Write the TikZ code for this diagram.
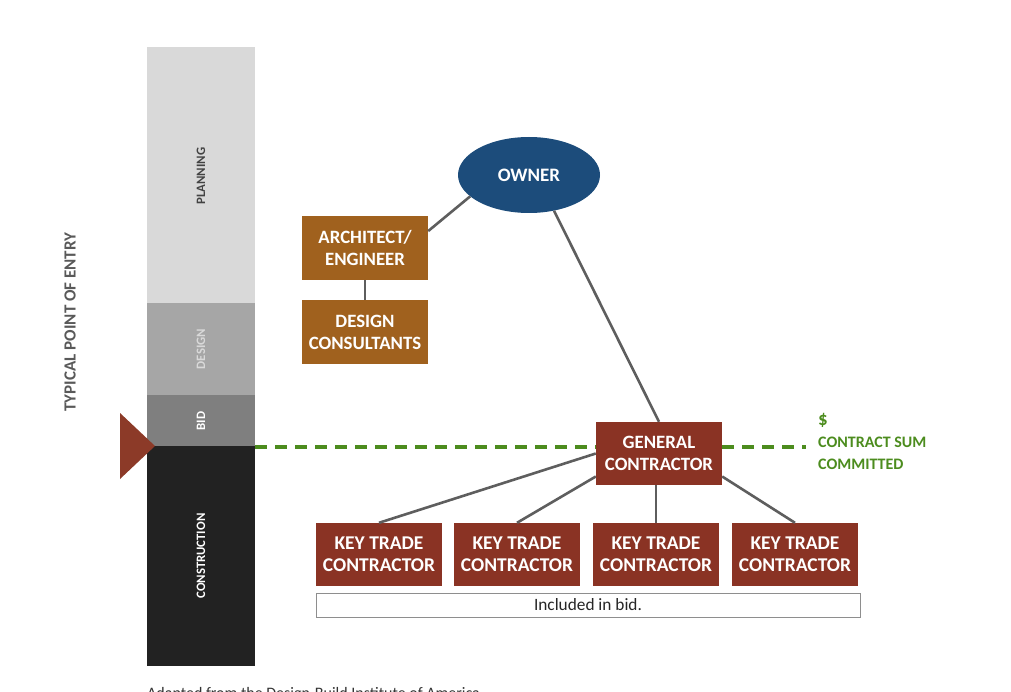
\documentclass[tikz,border=0pt]{standalone}
\usepackage{fontspec}
\setmainfont{Carlito}
\usetikzlibrary{shapes.geometric}
\definecolor{ownerblue}{HTML}{1C4C7B}
\definecolor{archbrown}{HTML}{A0611E}
\definecolor{gcred}{HTML}{8A3324}
\definecolor{tri}{HTML}{8C3A28}
\definecolor{sumgreen}{HTML}{4C8C1E}
\definecolor{linegray}{HTML}{5E5E5E}
\definecolor{ph1}{HTML}{D9D9D9}
\definecolor{ph2}{HTML}{A6A6A6}
\definecolor{ph3}{HTML}{7F7F7F}
\definecolor{ph4}{HTML}{222222}
\definecolor{txtgray}{HTML}{595959}
\tikzset{
  boxA/.style={fill=archbrown, text=white, font=\fontsize{18.8}{22}\selectfont\bfseries, align=center, minimum width=126pt, minimum height=64pt, inner sep=0pt},
  boxR/.style={fill=gcred, text=white, font=\fontsize{19.5}{22}\selectfont\bfseries, align=center, minimum width=126pt, minimum height=63pt, inner sep=0pt},
  conn/.style={draw=linegray, line width=2.6pt},
  phase/.style={rotate=90, font=\fontsize{12.8}{14}\selectfont\bfseries},
}
\begin{document}
\begin{tikzpicture}[x=1pt,y=-1pt]
\useasboundingbox (0,0) rectangle (1011,692);
% phase bar
\fill[ph1] (147,47) rectangle (255,303);
\fill[ph2] (147,303) rectangle (255,395);
\fill[ph3] (147,395) rectangle (255,446);
\fill[ph4] (147,446) rectangle (255,666);
\node[phase, text=ph4!85] (pl) at (201,176) {PLANNING};
\node[phase, text=ph1] (de) at (201,349) {DESIGN};
\node[phase, text=white] (bi) at (201,421) {BID};
\node[phase, text=white] (co) at (201,556) {CONSTRUCTION};
\node[rotate=90, text=txtgray, font=\fontsize{17}{20}\selectfont\bfseries] (tp) at (70,322) {TYPICAL POINT OF ENTRY};
\fill[tri] (120,413) -- (155,446) -- (120,479) -- cycle;
% nodes
\node[ellipse, fill=ownerblue, text=white, font=\fontsize{19}{22}\selectfont\bfseries, minimum width=142pt, minimum height=76pt, inner sep=0pt] (owner) at (529,175) {OWNER};
\node[boxA] (arch) at (365,248) {ARCHITECT/\\ENGINEER};
\node[boxA] (dc) at (365,332) {DESIGN\\CONSULTANTS};
\node[boxR, font=\fontsize{18.8}{22}\selectfont\bfseries] (gc) at (659,453.5) {GENERAL\\CONTRACTOR};
\node[boxR] (k1) at (379,554.5) {KEY TRADE\\CONTRACTOR};
\node[boxR] (k2) at (517,554.5) {KEY TRADE\\CONTRACTOR};
\node[boxR] (k3) at (656,554.5) {KEY TRADE\\CONTRACTOR};
\node[boxR] (k4) at (795,554.5) {KEY TRADE\\CONTRACTOR};
\node[draw=linegray!70, line width=0.8pt, fill=white, minimum width=544pt, minimum height=24pt, inner sep=0pt, font=\fontsize{17.3}{18}\selectfont, text=black!85] (inc) at (588,605) {Included in bid.};
% dashed sum line
\coordinate (dl) at (255,447);
\coordinate (dr) at (806,447);
\draw[sumgreen, line width=4pt, dash pattern=on 12pt off 8pt] (dl) -- (gc.west |- dl);
\draw[sumgreen, line width=4pt, dash pattern=on 12pt off 8pt] (gc.east |- dr) -- (dr);
\node[anchor=north west, text=sumgreen, align=left, inner sep=0pt, font=\fontsize{16}{22}\selectfont\bfseries] (sum) at (818,413) {{\fontsize{19}{22}\selectfont\$}\\CONTRACT SUM\\COMMITTED};
% connectors
\draw[conn] (owner.200) -- (arch.15);
\draw[conn] (arch.south) -- (dc.north);
\draw[conn] (owner.-55) -- (gc.north);
\draw[conn] (gc.west) -- (k1.north);
\draw[conn] (gc.200) -- (k2.north);
\draw[conn] (gc.south -| k3.north) -- (k3.north);
\draw[conn] (gc.-20) -- (k4.north);
% caption (cut by page edge, as in the reference)
\node[anchor=base west, inner sep=0pt, text=black!80, font=\fontsize{16}{18}\selectfont] (cap) at (147,698) {Adapted from the Design-Build Institute of America};
\end{tikzpicture}
\end{document}
